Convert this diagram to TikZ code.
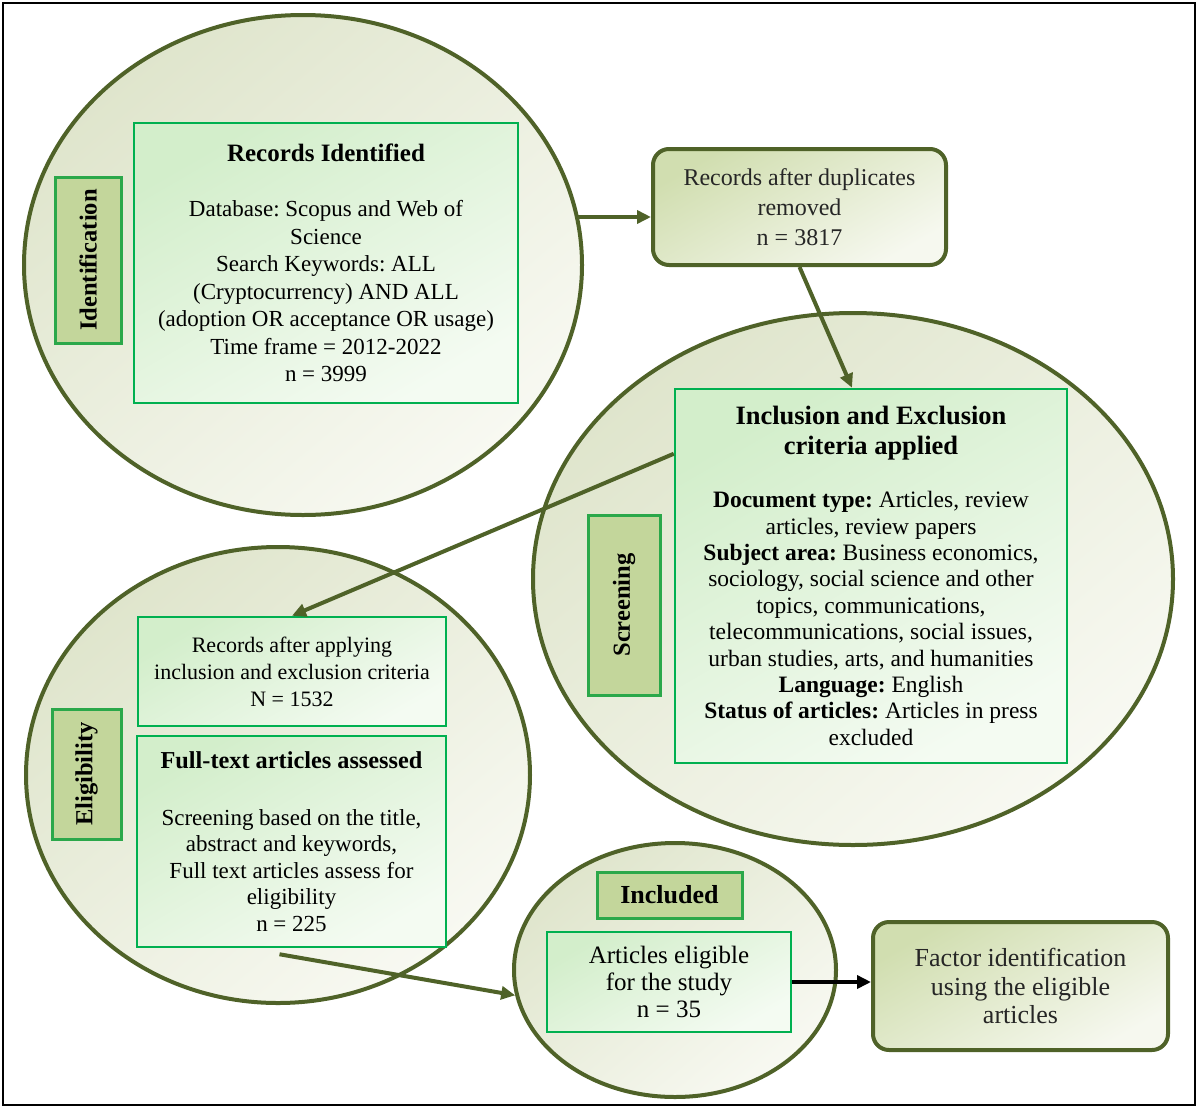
\documentclass[tikz,border=0pt]{standalone}
\usepackage{fontspec}
\setmainfont{Liberation Serif}
\usetikzlibrary{shapes.geometric, arrows.meta, calc}

\definecolor{olivedark}{HTML}{4F6228}
\definecolor{stagefill}{HTML}{C3D69B}
\definecolor{stageline}{HTML}{2BA84A}
\definecolor{boxline}{HTML}{00B050}
\definecolor{boxtop}{HTML}{D3EECB}
\definecolor{boxbot}{HTML}{F4FBF2}
\definecolor{ellin}{HTML}{F8F9F2}
\definecolor{ellout}{HTML}{DFE5CC}
\definecolor{roundtop}{HTML}{D1DEB0}
\definecolor{roundbot}{HTML}{F6F8EF}

\newcommand\bodyfs[2]{\fontsize{#1}{#2}\selectfont}

\begin{document}
\frenchspacing
\begin{tikzpicture}[x=1pt, y=-1pt,
  stage/.style={ellipse, draw=olivedark, line width=4pt, top color=ellout, bottom color=ellin, shading angle=40, inner sep=0pt},
  stagelabel/.style={draw=stageline, line width=3pt, fill=stagefill, inner sep=0pt, font=\bfseries\bodyfs{24.5}{29}},
  greenbox/.style={draw=boxline, line width=2.5pt, top color=boxtop, bottom color=boxbot, shading angle=30, align=center, inner sep=0pt},
  outcome/.style={draw=olivedark, line width=4pt, rounded corners=16pt, top color=roundtop, bottom color=roundbot, shading angle=30, align=center, inner sep=0pt, text=black!85},
  flow/.style={draw=olivedark, line width=4pt, -{Triangle[length=14pt,width=13pt]}}
]
\useasboundingbox (0,0) rectangle (1200,1109);
\draw[line width=2.5pt] (3,3) rectangle (1195,1105);

\node[stage, minimum width=558pt, minimum height=500pt] (idell) at (303,265) {};
\node[stage, minimum width=640pt, minimum height=532pt] (scrnell) at (853,579) {};
\node[stage, minimum width=504pt, minimum height=456pt] (eligell) at (278,775) {};
\node[stage, minimum width=322pt, minimum height=254pt] (inclell) at (675,970) {};

\node[greenbox, minimum width=384pt, minimum height=280pt, font=\bodyfs{23}{27.5}] (idbox) at (326,263)
  {{\bfseries\bodyfs{25}{30}Records Identified}\\[28pt]
   Database: Scopus and Web of\\Science\\Search Keywords: ALL\\(Cryptocurrency) AND ALL\\(adoption OR acceptance OR usage)\\Time frame = 2012-2022\\n = 3999};
\node[stagelabel, rotate=90, minimum width=166pt, minimum height=66pt] (idlab) at (88,260) {Identification};

\node[outcome, minimum width=293pt, minimum height=116pt, font=\bodyfs{24}{30}] (dup) at (799.5,207)
  {Records after duplicates\\removed\\n = 3817};

\node[greenbox, minimum width=392pt, minimum height=374pt, font=\bodyfs{23.5}{26.4}] (incl) at (871,576)
  {{\bfseries\bodyfs{26.5}{30}Inclusion and Exclusion}\\[3.6pt]
   {\bfseries\bodyfs{26.5}{30}criteria applied}\\[26.6pt]
   \textbf{Document type:} Articles, review\\articles, review papers\\
   \textbf{Subject area:} Business economics,\\sociology, social science and other\\topics, communications,\\
   telecommunications, social issues,\\urban studies, arts, and humanities\\
   \textbf{Language:} English\\\textbf{Status of articles:} Articles in press\\excluded};
\node[stagelabel, rotate=90, minimum width=180pt, minimum height=72pt] (scrlab) at (624,605) {Screening};

\node[greenbox, minimum width=308pt, minimum height=109pt, font=\bodyfs{22}{27}] (recapp) at (292,671.5)
  {Records after applying\\inclusion and exclusion criteria\\N = 1532};
\node[greenbox, minimum width=309pt, minimum height=211pt, font=\bodyfs{23}{26.4}] (fulltext) at (291.5,841.5)
  {{\bfseries\bodyfs{24.3}{29}Full-text articles assessed}\\[30.6pt]
   Screening based on the title,\\abstract and keywords,\\Full text articles assess for\\eligibility\\n = 225};
\node[stagelabel, rotate=90, minimum width=130pt, minimum height=69pt] (eliglab) at (86.5,774) {Eligibility};

\node[stagelabel, minimum width=145pt, minimum height=46pt, font=\bfseries\bodyfs{26}{30}] (inclab) at (669.5,895) {Included};
\node[greenbox, minimum width=244pt, minimum height=100pt, font=\bodyfs{25}{26.7}] (artbox) at (669,982)
  {Articles eligible\\for the study\\n = 35};
\node[outcome, minimum width=295pt, minimum height=128pt, font=\bodyfs{26}{28.5}] (factor) at (1020.5,986)
  {Factor identification\\using the eligible\\articles};

\coordinate (idexit) at (577,217);
\draw[flow] (idexit) -- (idexit -| dup.west);
\draw[flow] (dup.south) -- ($(incl.north)+(-19,0)$);
\draw[flow] ($(incl.north west)+(0,66)$) -- (recapp.north);
\draw[flow] ($(fulltext.south)+(-12,6)$) -- (inclell.189);
\draw[line width=4pt, -{Triangle[length=14pt,width=13pt]}] (artbox.east) -- (artbox.east -| factor.west);
\end{tikzpicture}
\end{document}
